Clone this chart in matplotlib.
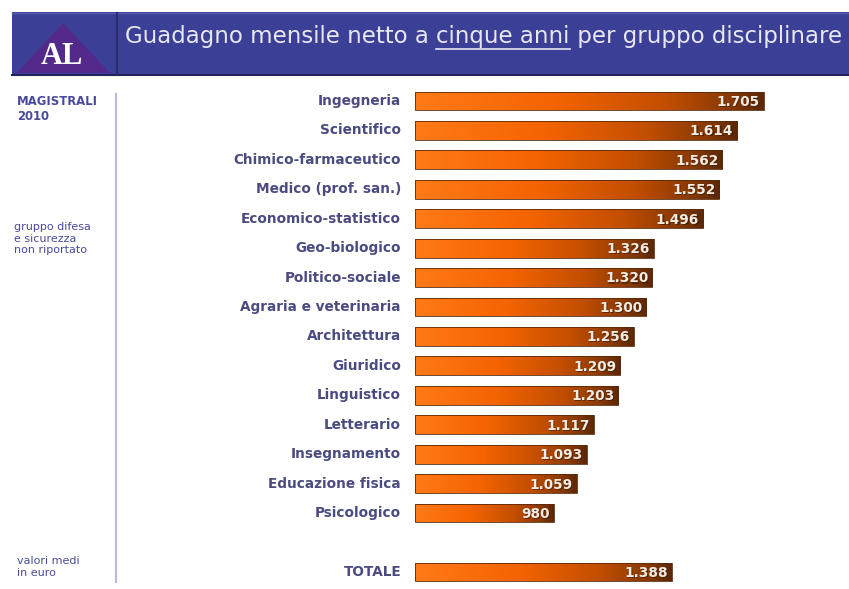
import matplotlib
matplotlib.use("Agg")
import matplotlib.pyplot as plt
import matplotlib.transforms as mtransforms
import numpy as np
from matplotlib.colors import LinearSegmentedColormap
from matplotlib.patches import Rectangle, Polygon
from matplotlib.lines import Line2D

categories = ["Ingegneria", "Scientifico", "Chimico-farmaceutico", "Medico (prof. san.)",
              "Economico-statistico", "Geo-biologico", "Politico-sociale",
              "Agraria e veterinaria", "Architettura", "Giuridico", "Linguistico",
              "Letterario", "Insegnamento", "Educazione fisica", "Psicologico", "TOTALE"]
values = [1705, 1614, 1562, 1552, 1496, 1326, 1320, 1300, 1256, 1209, 1203,
          1117, 1093, 1059, 980, 1388]
positions = list(range(15)) + [16]

W, H = 849, 589
fig = plt.figure(figsize=(W / 100, H / 100), dpi=100)
fig.patch.set_facecolor("white")

def fx(px):
    return px / W

def fy(py):
    return 1 - py / H

# header band
hdr_col = "#3c3f96"
fig.patches.append(Rectangle((fx(12), fy(75)), fx(W - 12), (75 - 12) / H,
                             transform=fig.transFigure, facecolor=hdr_col,
                             edgecolor="none", zorder=0))
fig.lines.append(Line2D([fx(12), 1], [fy(75), fy(75)], transform=fig.transFigure,
                        color="#23245e", lw=1.5))
fig.lines.append(Line2D([fx(12), 1], [fy(12.5), fy(12.5)], transform=fig.transFigure,
                        color="#5a5db0", lw=1))
fig.lines.append(Line2D([fx(117), fx(117)], [fy(13), fy(75)], transform=fig.transFigure,
                        color="#2a2c70", lw=1.5))
# logo
fig.patches.append(Polygon([(fx(63), fy(23)), (fx(17), fy(73)), (fx(110), fy(73))],
                           closed=True, transform=fig.transFigure,
                           facecolor="#53298c", edgecolor="none", zorder=1))
fig.text(fx(62), fy(57), "AL", color="white", fontsize=22, fontweight="bold",
         family="Liberation Serif", ha="center", va="center")

# title with underlined part
title_parts = ["Guadagno mensile netto a ", "cinque anni", " per gruppo disciplinare"]
tcol = "#e8e8f2"
x0 = fx(125)
ty = fy(37)
fig.canvas.draw()
renderer = fig.canvas.get_renderer()
for i, part in enumerate(title_parts):
    t = fig.text(x0, ty, part, color=tcol, fontsize=16.5, ha="left", va="center",
                 family="DejaVu Sans")
    bb = t.get_window_extent(renderer=renderer)
    w = bb.width / W
    if i == 1:
        fig.lines.append(Line2D([x0, x0 + w], [fy(49), fy(49)], transform=fig.transFigure,
                                color=tcol, lw=1.2))
    x0 += w

# left panel
lcol = "#4a4a9c"
fig.text(fx(17), fy(95), "MAGISTRALI\n2010", color=lcol, fontsize=8.4, fontweight="bold",
         ha="left", va="top", linespacing=1.2)
fig.text(fx(14), fy(222), "gruppo difesa\ne sicurezza\nnon riportato", color=lcol,
         fontsize=8.0, ha="left", va="top", linespacing=1.2)
fig.text(fx(17), fy(556), "valori medi\nin euro", color=lcol,
         fontsize=8.0, ha="left", va="top", linespacing=1.2)
fig.lines.append(Line2D([fx(116), fx(116)], [fy(94), fy(582)], transform=fig.transFigure,
                        color="#b8bad8", lw=1.5))

# bars axes
base = 500
ax = fig.add_axes([fx(415), 0, fx(849 - 415), (589 - 85) / H])
ax.axis("off")

cmap = LinearSegmentedColormap.from_list("grad", [
    (0.0, "#ff7a18"), (0.4, "#f46400"), (0.72, "#c24e00"), (0.9, "#8a3a06"), (1.0, "#5c2808")])
grad = np.linspace(0, 1, 256).reshape(1, -1)
bh = 0.64
bars = ax.barh(positions, [v - base for v in values], left=base, height=bh,
               color="none", edgecolor="#5a2a0a", linewidth=0.6, zorder=3)
shadow = ax.transData + mtransforms.ScaledTranslation(0.8 / 72, -0.8 / 72, fig.dpi_scale_trans)
for b, v, p in zip(bars, values, positions):
    im = ax.imshow(grad, cmap=cmap, aspect="auto", zorder=2,
                   extent=[base, v, p + bh / 2, p - bh / 2], interpolation="bilinear")
    im.set_clip_path(b)
    lab = f"{v:,}".replace(",", ".")
    ax.text(v - 14, p + 0.03, lab, color="#3a1a00", fontsize=9.8, fontweight="bold",
            ha="right", va="center", zorder=4, alpha=0.6, transform=shadow)
    ax.text(v - 14, p + 0.03, lab, color="#f4ece4", fontsize=9.8, fontweight="bold",
            ha="right", va="center", zorder=5)
ax.set_xlim(base, 2000)
ax.set_ylim(16.58, -0.544)

# category labels
for c, p in zip(categories, positions):
    ax.annotate(c, xy=(base, p), xycoords="data", xytext=(-14, 0),
                textcoords="offset pixels", ha="right", va="center",
                color="#4a4b80", fontsize=9.8, fontweight="bold", annotation_clip=False)

fig.savefig("out.png", dpi=100, facecolor="white")
